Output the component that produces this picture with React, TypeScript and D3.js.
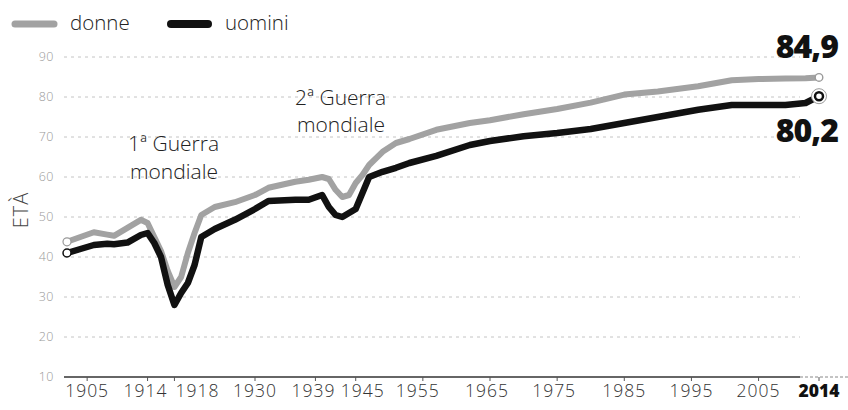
import React from "react";
import * as d3 from "d3";

const years = [1902, 1904, 1906, 1908, 1909, 1911, 1913, 1914, 1915, 1916, 1917, 1918, 1919, 1920, 1921, 1922, 1924, 1927, 1930, 1932, 1936, 1938, 1940, 1941, 1942, 1943, 1944, 1945, 1946, 1947, 1949, 1951, 1953, 1957, 1962, 1965, 1970, 1975, 1980, 1985, 1990, 1996, 2001, 2005, 2009, 2012, 2014];
const donne = [43.8, 45, 46.2, 45.6, 45.3, 47.3, 49.3, 48.5, 45, 41.5, 36.5, 32.5, 35, 41, 46, 50.5, 52.5, 53.7, 55.5, 57.3, 58.8, 59.3, 60, 59.5, 56.8, 55, 55.5, 58.5, 60.5, 63, 66.3, 68.5, 69.5, 71.8, 73.5, 74.2, 75.7, 77, 78.6, 80.6, 81.4, 82.7, 84.2, 84.5, 84.6, 84.7, 84.9];
const uomini = [41, 42, 43, 43.3, 43.2, 43.6, 45.5, 46, 43.5, 40, 33, 28, 31, 33.5, 38, 45, 47, 49.3, 52, 54, 54.3, 54.3, 55.5, 52.5, 50.5, 50, 51, 52, 56, 60, 61.3, 62.3, 63.5, 65.3, 68, 69, 70.2, 71, 72, 73.5, 75, 76.8, 78, 78, 78, 78.5, 80.2];
const xTicks = [1905, 1914, 1918, 1930, 1939, 1945, 1955, 1965, 1975, 1985, 1995, 2005, 2014];
const yTicks = [10, 20, 30, 40, 50, 60, 70, 80, 90];
const seriesNames = ["donne", "uomini"];
const endLabels = ["84,9", "80,2"];
const wars = [["1ª Guerra", "mondiale"], ["2ª Guerra", "mondiale"]];

const W = 848;
const H = 410;
const FONT = "'Open Sans', 'DejaVu Sans', sans-serif";

// small label nudges used by the original layout to avoid overlaps
const labelNudge: Record<number, number> = { 1914: -2, 1918: 23, 1939: -2, 1945: 7, 1955: -5, 1965: -3, 1975: -3 };

export default function App() {
  const x = d3.scaleLinear().domain([1902, 2014]).range([67, 819]);
  const y = d3.scaleLinear().domain([10, 90]).range([377, 57]);
  const line = d3
    .line<number>()
    .x((_, i) => x(years[i]))
    .y((d) => y(d))
    .curve(d3.curveLinear);
  const last = years.length - 1;
  const grey = "#a2a2a2";

  return (
    <svg width={W} height={H} style={{ position: "absolute", left: 0, top: 0, background: "#fff" }} fontFamily={FONT}>
      {/* grid */}
      {yTicks.slice(1).map((t) => (
        <line key={t} x1={64} x2={800} y1={y(t)} y2={y(t)} stroke="#c4c4c4" strokeWidth={1} strokeDasharray="3,4" />
      ))}
      {/* baseline */}
      <line x1={64} x2={800} y1={y(10)} y2={y(10)} stroke="#333" strokeWidth={1.6} />
      <line x1={800} x2={848} y1={y(10)} y2={y(10)} stroke="#888" strokeWidth={1} strokeDasharray="3,2" />
      {xTicks.map((t) => (
        <line key={t} x1={x(t)} x2={x(t)} y1={y(10)} y2={y(10) + 4} stroke="#555" strokeWidth={1} />
      ))}
      {/* y labels */}
      {yTicks.map((t) => (
        <text key={t} x={54} y={y(t)} dy="0.35em" textAnchor="end" fontSize={12.5} fill="#999" fontWeight={300} letterSpacing={0.5}>
          {t}
        </text>
      ))}
      <text transform={`translate(28,210) rotate(-90)`} textAnchor="middle" fontSize={20} fill="#444" fontWeight={300} letterSpacing={1}>
        ETÀ
      </text>
      {/* x labels */}
      {xTicks.map((t) => {
        const isLast = t === 2014;
        const dx = labelNudge[t] || 0;
        return (
          <text key={t} x={x(t) + dx} y={397} textAnchor="middle" fontSize={17.5} fill={isLast ? "#111" : "#333"} fontWeight={isLast ? 800 : 300} letterSpacing={isLast ? 0 : 1}>
            {t}
          </text>
        );
      })}
      {/* annotations */}
      <text x={128} y={151} fontSize={21} fill="#222" fontWeight={300}>
        {wars[0][0]}
        <tspan x={130} dy={28}>{wars[0][1]}</tspan>
      </text>
      <text x={295} y={105} fontSize={21} fill="#222" fontWeight={300}>
        {wars[1][0]}
        <tspan x={297} dy={27}>{wars[1][1]}</tspan>
      </text>
      {/* lines */}
      <path d={line(donne) || ""} fill="none" stroke={grey} strokeWidth={6} strokeLinejoin="round" strokeLinecap="round" />
      <path d={line(uomini) || ""} fill="none" stroke="#111" strokeWidth={6.5} strokeLinejoin="round" strokeLinecap="round" />
      {/* start markers */}
      <circle cx={x(years[0])} cy={y(donne[0])} r={4} fill="#fff" stroke="#999" strokeWidth={1.2} />
      <circle cx={x(years[0])} cy={y(uomini[0])} r={4} fill="#fff" stroke="#111" strokeWidth={1.5} />
      {/* end markers */}
      <circle cx={x(years[last])} cy={y(donne[last])} r={3.8} fill="#fff" stroke="#999" strokeWidth={1.4} />
      <circle cx={x(years[last])} cy={y(uomini[last])} r={7.5} fill="#fff" stroke="#999" strokeWidth={1} />
      <circle cx={x(years[last])} cy={y(uomini[last])} r={4} fill="#fff" stroke="#111" strokeWidth={2.5} />
      {/* end labels */}
      <text x={838} y={58} textAnchor="end" fontSize={32} fontWeight={800} fill="#111" letterSpacing={-1}>
        {endLabels[0]}
      </text>
      <text x={838} y={142} textAnchor="end" fontSize={32} fontWeight={800} fill="#111" letterSpacing={-1}>
        {endLabels[1]}
      </text>
      {/* legend */}
      <line x1={15} x2={54} y1={24} y2={24} stroke={grey} strokeWidth={7} strokeLinecap="round" />
      <text x={70} y={30} fontSize={20.5} fill="#222" fontWeight={300}>
        {seriesNames[0]}
      </text>
      <line x1={171} x2={208} y1={24} y2={24} stroke="#111" strokeWidth={8} strokeLinecap="round" />
      <text x={225} y={30} fontSize={20.5} fill="#222" fontWeight={300}>
        {seriesNames[1]}
      </text>
    </svg>
  );
}
